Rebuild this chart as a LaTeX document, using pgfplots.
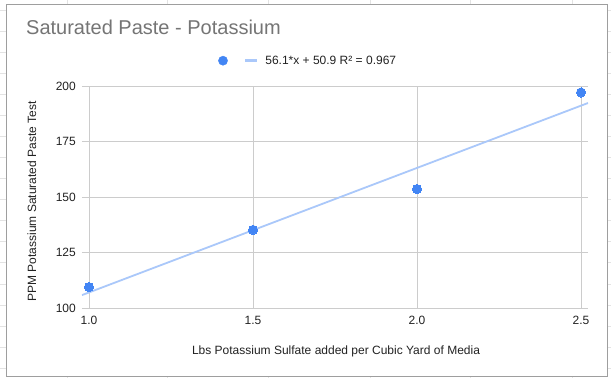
\documentclass[border=0pt]{standalone}
\usepackage{pgfplots}
\pgfplotsset{compat=1.18}
\usepackage{fontspec}
\setmainfont{Liberation Sans}
\definecolor{gblue}{HTML}{4285F4}
\definecolor{trend}{HTML}{AAC8FA}
\definecolor{gridc}{HTML}{CCCCCC}
\definecolor{txt}{HTML}{222222}
\definecolor{ttl}{HTML}{757575}
\definecolor{sheet}{HTML}{E3E3E3}
\definecolor{frame}{HTML}{9E9E9E}
\begin{document}
\begin{tikzpicture}
\useasboundingbox (0pt,0pt) rectangle (611pt,378pt);
\fill[white] (0pt,0pt) rectangle (611pt,378pt);
\foreach \vx in {67,167,268,370,470,572} {\draw[sheet, line width=0.8pt] (\vx pt,0pt) -- (\vx pt,378pt);}
\foreach \k [evaluate=\k as \yy using 368-21.07*\k] in {0,...,17} {\draw[sheet, line width=0.8pt] (0pt,\yy pt) -- (611pt,\yy pt);}
\draw[frame, line width=1pt, fill=white] (6.5pt,1.5pt) rectangle (607pt,373.5pt);
\begin{axis}[
  at={(82pt,70pt)}, anchor=south west,
  scale only axis, width=506pt, height=222pt,
  xmin=0.9787, xmax=2.5213, ymin=100, ymax=200,
  xtick={1,1.5,2,2.5}, xticklabels={1.0,1.5,2.0,2.5},
  ytick={100,125,150,175,200}, yticklabels={100,125,150,175,200},
  grid=major, major grid style={color=gridc, line width=0.8pt},
  axis line style={draw=none}, major tick length=0pt,
  xticklabel style={font=\fontsize{12}{14}\selectfont, color=txt, anchor=north, inner sep=0pt, yshift=-8pt},
  yticklabel style={font=\fontsize{12}{14}\selectfont, color=txt, anchor=east, inner sep=0pt, xshift=-6pt},
  xlabel={Lbs Potassium Sulfate added per Cubic Yard of Media},
  xlabel style={at={(axis description cs:0.502,-0.2117)}, anchor=base, inner sep=0pt, font=\fontsize{12}{14}\selectfont, color=txt},
  ylabel={PPM Potassium Saturated Paste Test},
  ylabel style={at={(axis description cs:-0.0909,0.4797)}, anchor=base, inner sep=0pt, font=\fontsize{12}{14}\selectfont, color=txt},
  title={Saturated Paste - Potassium},
  title style={at={(axis description cs:-0.1107,1.2072)}, anchor=base west, inner sep=0pt, font=\fontsize{20}{24}\selectfont, color=ttl},
  legend style={at={(axis description cs:0.2692,1.1140)}, anchor=west, draw=none, fill=none, inner sep=0pt, outer sep=0pt, column sep=0pt, row sep=0pt, nodes={inner sep=0pt}, font=\fontsize{12}{14}\selectfont, text=txt},
  legend columns=2,
  clip=true,
]
\addplot[trend, line width=1.8pt, forget plot] coordinates {(0.9787,105.81) (2.5213,192.34)};
\addplot[gblue, only marks, mark=*, mark size=4.6pt, mark options={draw=gblue, fill=gblue, line width=0pt}, forget plot] coordinates {
(1.0,109.4) (1.5,135.2) (2.0,153.6) (2.5,197.1)};
\addlegendimage{legend image code/.code={\fill[gblue] (4.6pt,0pt) circle[radius=4.6pt]; \path (0pt,0pt) (24pt,0pt);}}
\addlegendentry{\mbox{}}
\addlegendimage{legend image code/.code={\draw[trend, line width=3.5pt] (0pt,0pt) -- (11.7pt,0pt); \path (19.8pt,0pt);}}
\addlegendentry{56.1*x + 50.9 R² = 0.967}
\end{axis}
\end{tikzpicture}
\end{document}
